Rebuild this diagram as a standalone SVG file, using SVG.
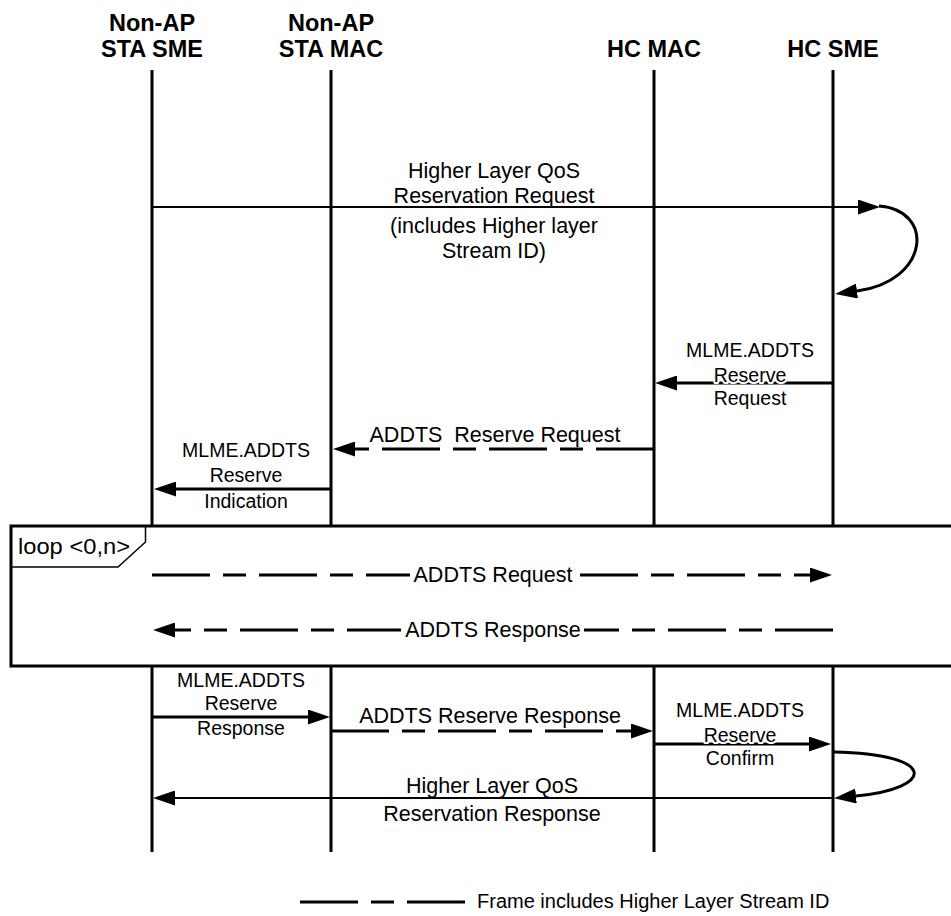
<svg xmlns="http://www.w3.org/2000/svg" width="951" height="916" viewBox="0 0 951 916">
<style>
text{font-family:"Liberation Sans",Arial,sans-serif;fill:#000}
.hdr{font-size:23.5px;font-weight:bold;text-anchor:middle}
.lbl{font-size:21.5px;text-anchor:middle}
.ml{font-size:19.5px;text-anchor:middle;stroke:#fff;stroke-width:4px;paint-order:stroke;stroke-linejoin:round}
.life{stroke:#000;stroke-width:3;fill:none}
.thin{stroke:#000;stroke-width:2;fill:none}
.thick{stroke:#000;stroke-width:3;fill:none}
.dash{stroke:#000;stroke-width:3;fill:none;stroke-dasharray:58 13 23 13}
</style>
<defs>
<marker id="ah" markerUnits="userSpaceOnUse" markerWidth="22" markerHeight="15" viewBox="0 0 22 15" refX="0" refY="7.5" orient="auto">
<path d="M0,0 L22,7.5 L0,15 z" fill="#000"/>
</marker>
</defs>
<rect width="951" height="916" fill="#fff"/>

<g id="node-sta-sme">
<text class="hdr" x="152" y="31">Non-AP</text>
<text class="hdr" x="152" y="57">STA SME</text>
<path class="life" d="M152,70 V526 M152,666 V852"/>
</g>
<g id="node-sta-mac">
<text class="hdr" x="331" y="31">Non-AP</text>
<text class="hdr" x="331" y="57">STA MAC</text>
<path class="life" d="M331,70 V526 M331,666 V852"/>
</g>
<g id="node-hc-mac">
<text class="hdr" x="654" y="57">HC MAC</text>
<path class="life" d="M654,70 V526 M654,666 V852"/>
</g>
<g id="node-hc-sme">
<text class="hdr" x="833" y="57">HC SME</text>
<path class="life" d="M833,70 V526 M833,666 V852"/>
</g>

<g id="loop-frame">
<rect x="11" y="526" width="945" height="140" fill="none" stroke="#000" stroke-width="3"/>
<path d="M11,567 H118 L145.5,542 V526" fill="none" stroke="#000" stroke-width="1.5"/>
<text x="18" y="554" style="font-size:22px" textLength="112" lengthAdjust="spacingAndGlyphs">loop &lt;0,n&gt;</text>
</g>

<g id="connectors">
<!-- Higher Layer QoS Reservation Request -->
<path class="thin" d="M152,207 H858" marker-end="url(#ah)"/>
<text class="lbl" x="494" y="178">Higher Layer QoS</text>
<text class="lbl" x="494" y="203">Reservation Request</text>
<text class="lbl" x="494" y="233">(includes Higher layer</text>
<text class="lbl" x="494" y="258">Stream ID)</text>
<path class="thick" d="M879,206 C935,210 930,281 857,291" marker-end="url(#ah)"/>

<!-- MLME.ADDTS Reserve Request -->
<path class="thick" d="M833,383 H677" marker-end="url(#ah)"/>
<text class="ml" x="750" y="357">MLME.ADDTS</text>
<text class="ml" x="750" y="382">Reserve</text>
<text class="ml" x="750" y="405">Request</text>

<!-- ADDTS Reserve Request -->
<path class="dash" d="M654,449 H355" marker-end="url(#ah)"/>
<text class="lbl" x="495" y="442" style="white-space:pre">ADDTS  Reserve Request</text>

<!-- MLME.ADDTS Reserve Indication -->
<path class="thick" d="M331,489 H176" marker-end="url(#ah)"/>
<text class="ml" x="246" y="457">MLME.ADDTS</text>
<text class="ml" x="246" y="482">Reserve</text>
<text class="ml" x="246" y="508">Indication</text>

<!-- loop: ADDTS Request -->
<path class="dash" d="M152,575 H810" marker-end="url(#ah)"/>
<rect x="410" y="562" width="166" height="26" fill="#fff"/>
<text class="lbl" x="493" y="582">ADDTS Request</text>

<!-- loop: ADDTS Response -->
<path class="dash" d="M833,630 H175" marker-end="url(#ah)"/>
<rect x="401" y="617" width="183" height="26" fill="#fff"/>
<text class="lbl" x="493" y="637">ADDTS Response</text>

<!-- MLME.ADDTS Reserve Response -->
<path class="thick" d="M152,717 H308" marker-end="url(#ah)"/>
<text class="ml" x="241" y="687">MLME.ADDTS</text>
<text class="ml" x="241" y="710">Reserve</text>
<text class="ml" x="241" y="735">Response</text>

<!-- ADDTS Reserve Response -->
<path class="dash" d="M331,731 H631" marker-end="url(#ah)"/>
<text class="lbl" x="490" y="723">ADDTS Reserve Response</text>

<!-- MLME.ADDTS Reserve Confirm -->
<path class="thick" d="M654,744 H809" marker-end="url(#ah)"/>
<text class="ml" x="740" y="717">MLME.ADDTS</text>
<text class="ml" x="740" y="742">Reserve</text>
<text class="ml" x="740" y="765">Confirm</text>
<path class="thick" d="M834,752 C938,754 936,788 856,796" marker-end="url(#ah)"/>

<!-- Higher Layer QoS Reservation Response -->
<path class="thin" d="M833,798 H175" marker-end="url(#ah)"/>
<text class="lbl" x="492" y="793">Higher Layer QoS</text>
<text class="lbl" x="492" y="821">Reservation Response</text>
</g>

<g id="legend">
<path class="dash" d="M300,902 H466"/>
<text x="477" y="908" style="font-size:20px">Frame includes Higher Layer Stream ID</text>
</g>
</svg>
